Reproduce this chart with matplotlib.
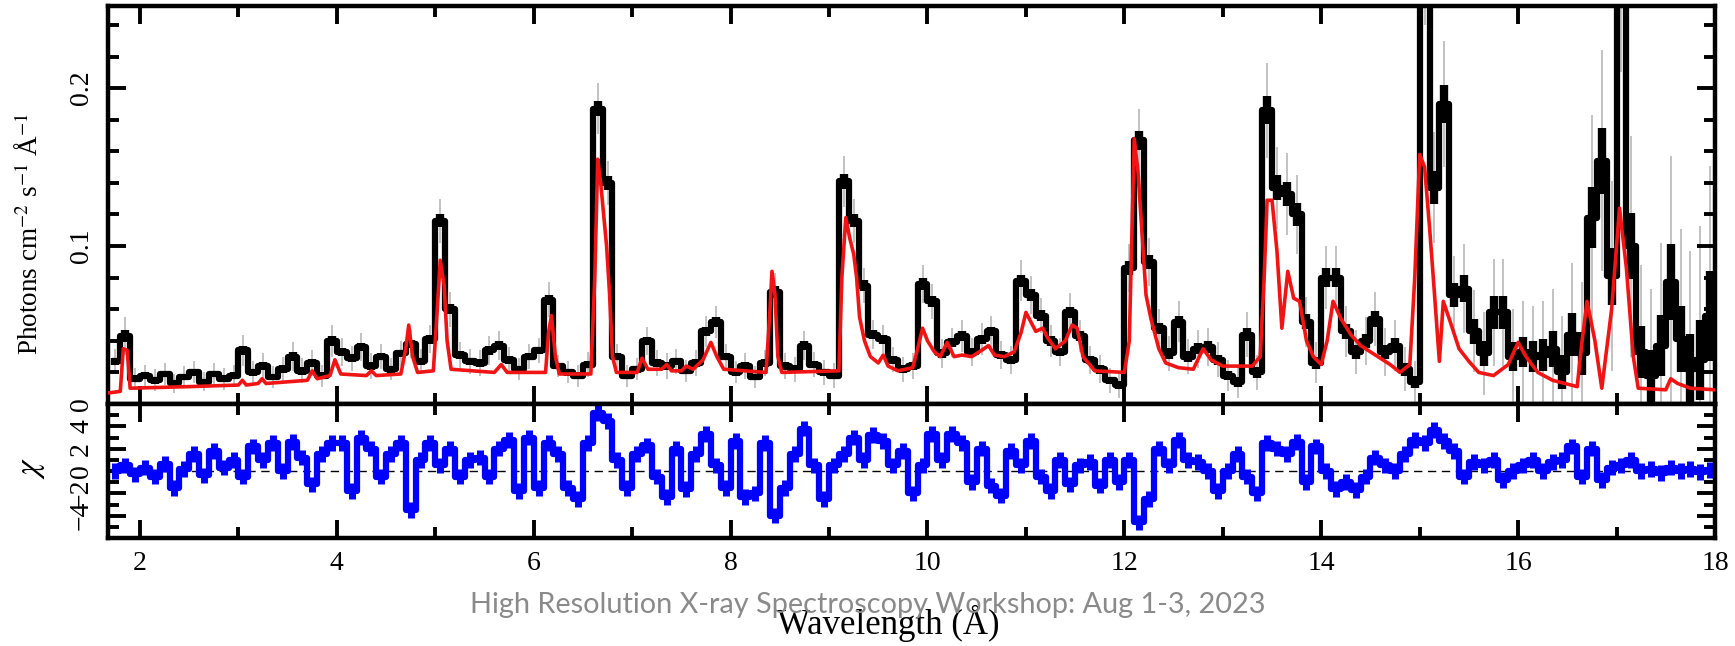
"""Chandra-style X-ray spectrum with model fit and chi residuals."""
import numpy as np
import matplotlib
matplotlib.use("Agg")
import matplotlib.pyplot as plt
from matplotlib.ticker import MultipleLocator

plt.rcParams.update({
    "font.family": "Liberation Serif",
    "mathtext.fontset": "stix",
    "font.size": 20,
})

# bin centres (Angstrom)
wl = [
    1.75, 1.85, 1.95, 2.05, 2.15, 2.25, 2.35, 2.45, 2.55, 2.65,
    2.75, 2.85, 2.95, 3.05, 3.15, 3.25, 3.35, 3.45, 3.55, 3.65,
    3.75, 3.85, 3.95, 4.05, 4.15, 4.25, 4.35, 4.45, 4.55, 4.65,
    4.75, 4.85, 4.95, 5.05, 5.15, 5.25, 5.35, 5.45, 5.55, 5.65,
    5.75, 5.85, 5.95, 6.05, 6.15, 6.25, 6.35, 6.45, 6.55, 6.65,
    6.75, 6.85, 6.95, 7.05, 7.15, 7.25, 7.35, 7.45, 7.55, 7.65,
    7.75, 7.85, 7.95, 8.05, 8.15, 8.25, 8.35, 8.45, 8.55, 8.65,
    8.75, 8.85, 8.95, 9.05, 9.15, 9.25, 9.35, 9.45, 9.55, 9.65,
    9.75, 9.85, 9.95, 10.05, 10.15, 10.25, 10.35, 10.45, 10.55, 10.65,
    10.75, 10.85, 10.95, 11.05, 11.15, 11.25, 11.35, 11.45, 11.55, 11.65,
    11.75, 11.85, 11.95, 12.05, 12.15, 12.25, 12.35, 12.45, 12.55, 12.65,
    12.75, 12.85, 12.95, 13.05, 13.15, 13.25, 13.35, 13.45, 13.55, 13.65,
    13.75, 13.85, 13.95, 14.05, 14.15, 14.25, 14.35, 14.45, 14.55, 14.65,
    14.75, 14.85, 14.95, 15.05, 15.15, 15.25, 15.35, 15.45, 15.55, 15.65,
    15.75, 15.85, 15.95, 16.05, 16.15, 16.25, 16.35, 16.45, 16.55, 16.65,
    16.75, 16.85, 16.95, 17.05, 17.15, 17.25, 17.35, 17.45, 17.55, 17.65,
    17.75, 17.85, 17.95,
]

# observed flux (photons cm^-2 s^-1 A^-1)
flux = [
    0.027, 0.043, 0.016, 0.018, 0.015, 0.019, 0.013, 0.017, 0.020, 0.014,
    0.019, 0.016, 0.018, 0.034, 0.020, 0.024, 0.017, 0.022, 0.030, 0.021,
    0.026, 0.018, 0.040, 0.033, 0.029, 0.036, 0.024, 0.030, 0.022, 0.032,
    0.038, 0.027, 0.041, 0.116, 0.060, 0.031, 0.027, 0.026, 0.034, 0.037,
    0.028, 0.022, 0.030, 0.034, 0.066, 0.024, 0.020, 0.018, 0.025, 0.187,
    0.140, 0.030, 0.018, 0.022, 0.040, 0.026, 0.024, 0.027, 0.021, 0.026,
    0.046, 0.052, 0.030, 0.020, 0.024, 0.017, 0.026, 0.071, 0.024, 0.022,
    0.037, 0.025, 0.020, 0.018, 0.141, 0.116, 0.075, 0.044, 0.041, 0.028,
    0.022, 0.024, 0.076, 0.065, 0.032, 0.039, 0.043, 0.033, 0.041, 0.046,
    0.031, 0.028, 0.078, 0.069, 0.056, 0.040, 0.033, 0.058, 0.043, 0.028,
    0.022, 0.015, 0.012, 0.086, 0.167, 0.090, 0.048, 0.032, 0.052, 0.030,
    0.035, 0.036, 0.028, 0.018, 0.014, 0.044, 0.020, 0.186, 0.137, 0.133,
    0.120, 0.052, 0.026, 0.080, 0.080, 0.046, 0.033, 0.040, 0.054, 0.033,
    0.037, 0.022, 0.014, 0.300, 0.137, 0.190, 0.069, 0.073, 0.046, 0.032,
    0.058, 0.058, 0.030, 0.033, 0.030, 0.031, 0.035, 0.020, 0.044, 0.032,
    0.118, 0.154, 0.081, 0.300, 0.100, 0.033, 0.018, 0.037, 0.077, 0.041,
    0.022, 0.028, 0.056,
]

# 1-sigma flux errors
flux_err = [
    0.008, 0.012, 0.007, 0.007, 0.007, 0.007, 0.006, 0.007, 0.007, 0.006,
    0.007, 0.007, 0.007, 0.010, 0.007, 0.008, 0.007, 0.008, 0.009, 0.008,
    0.008, 0.007, 0.010, 0.009, 0.008, 0.009, 0.008, 0.008, 0.007, 0.008,
    0.009, 0.008, 0.009, 0.014, 0.011, 0.008, 0.008, 0.008, 0.009, 0.009,
    0.008, 0.007, 0.008, 0.008, 0.011, 0.007, 0.007, 0.007, 0.008, 0.016,
    0.014, 0.008, 0.007, 0.007, 0.009, 0.008, 0.008, 0.008, 0.007, 0.008,
    0.010, 0.010, 0.008, 0.007, 0.008, 0.007, 0.008, 0.012, 0.008, 0.008,
    0.009, 0.008, 0.008, 0.008, 0.016, 0.014, 0.011, 0.009, 0.009, 0.008,
    0.008, 0.008, 0.012, 0.011, 0.009, 0.009, 0.010, 0.009, 0.010, 0.010,
    0.009, 0.009, 0.013, 0.012, 0.011, 0.010, 0.009, 0.012, 0.010, 0.009,
    0.009, 0.008, 0.008, 0.015, 0.020, 0.015, 0.012, 0.011, 0.013, 0.011,
    0.012, 0.012, 0.011, 0.010, 0.010, 0.014, 0.011, 0.030, 0.026, 0.026,
    0.025, 0.016, 0.013, 0.020, 0.020, 0.016, 0.014, 0.015, 0.017, 0.015,
    0.016, 0.014, 0.013, 0.060, 0.035, 0.040, 0.025, 0.028, 0.026, 0.026,
    0.034, 0.034, 0.030, 0.032, 0.032, 0.034, 0.038, 0.036, 0.045, 0.045,
    0.065, 0.070, 0.060, 0.090, 0.070, 0.055, 0.055, 0.065, 0.080, 0.070,
    0.075, 0.085, 0.095,
]

# residuals (data - model) / sigma
chi = [
    0.0, 0.5, -0.3, 0.3, -0.5, 0.6, -1.5, 0.2, 1.5, -0.4,
    1.8, 0.3, 1.0, -0.5, 2.2, 1.0, 2.5, 0.0, 2.6, 1.2,
    -1.2, 1.5, 2.5, 2.5, -1.8, 3.0, 2.0, -0.5, 1.5, 2.5,
    -3.5, 1.0, 2.5, 0.5, 2.0, -0.5, 1.0, 1.2, -0.5, 2.0,
    2.8, -1.8, 3.0, -1.5, 2.5, 1.5, -1.5, -2.5, 2.5, 5.2,
    4.5, 1.0, -1.5, 1.5, 2.3, -0.5, -2.3, 2.0, -1.6, 1.5,
    3.3, 0.5, -1.5, 2.7, -2.3, -2.0, 2.5, -4.0, -1.5, 1.5,
    3.8, 0.5, -2.5, 0.5, 1.5, 3.0, 1.0, 3.2, 2.7, 0.5,
    1.8, -2.0, 0.5, 3.3, 1.0, 3.3, 2.5, -1.0, 2.0, -1.3,
    -2.2, 1.8, 0.5, 2.7, -0.5, -1.8, 1.0, -1.2, 0.5, 0.8,
    -1.3, 1.0, -1.0, 1.0, -4.6, -2.5, 2.0, 0.5, 2.8, 1.0,
    0.8, 0.0, -1.8, 0.0, 1.5, -0.5, -2.0, 2.5, 2.0, 1.5,
    2.6, -1.0, 2.2, 0.0, -1.6, -1.0, -1.7, -0.5, 1.2, 0.5,
    0.0, 1.5, 2.8, 2.5, 3.7, 2.7, 1.8, -0.5, 0.8, 0.5,
    1.0, -0.8, 0.0, 0.5, 1.0, 0.0, 0.8, 1.0, 2.2, -0.5,
    2.0, -0.8, 0.3, 0.5, 1.0, 0.0, 0.2, -0.2, 0.3, 0.0,
    0.2, -0.1, 0.1,
]

# best-fit model
model_wl = [
    1.68, 1.80, 1.83, 1.87, 1.90, 2.50, 3.00, 3.04, 3.08, 3.20,
    3.24, 3.28, 3.70, 3.75, 3.80, 3.93, 3.98, 4.04, 4.30, 4.35,
    4.40, 4.65, 4.70, 4.73, 4.77, 4.82, 4.98, 5.02, 5.05, 5.09,
    5.12, 5.16, 5.60, 5.67, 5.73, 6.12, 6.15, 6.18, 6.22, 6.26,
    6.58, 6.62, 6.65, 6.68, 6.71, 6.74, 6.77, 6.80, 6.84, 7.05,
    7.10, 7.16, 7.30, 7.35, 7.40, 7.50, 7.55, 7.62, 7.72, 7.80,
    7.86, 7.93, 8.36, 8.40, 8.42, 8.45, 8.48, 8.52, 9.10, 9.13,
    9.17, 9.21, 9.25, 9.28, 9.31, 9.36, 9.42, 9.50, 9.55, 9.60,
    9.70, 9.85, 9.90, 9.95, 10.00, 10.07, 10.13, 10.20, 10.27, 10.35,
    10.45, 10.55, 10.62, 10.68, 10.78, 10.88, 10.95, 11.00, 11.05, 11.10,
    11.17, 11.22, 11.30, 11.40, 11.47, 11.52, 11.58, 11.70, 12.00, 12.05,
    12.10, 12.14, 12.18, 12.22, 12.27, 12.35, 12.42, 12.55, 12.70, 12.80,
    12.88, 13.00, 13.30, 13.38, 13.42, 13.45, 13.50, 13.55, 13.60, 13.66,
    13.72, 13.78, 13.85, 13.92, 14.00, 14.06, 14.12, 14.20, 14.30, 14.40,
    14.50, 14.60, 14.70, 14.80, 14.90, 14.95, 15.00, 15.05, 15.10, 15.15,
    15.20, 15.24, 15.30, 15.40, 15.50, 15.60, 15.75, 15.90, 16.00, 16.08,
    16.20, 16.35, 16.60, 16.65, 16.70, 16.78, 16.85, 16.95, 17.03, 17.10,
    17.17, 17.22, 17.50, 17.55, 17.62, 17.75, 18.00,
]
model_flux = [
    0.007, 0.008, 0.035, 0.034, 0.010, 0.011, 0.012, 0.015, 0.012, 0.013,
    0.016, 0.013, 0.015, 0.021, 0.016, 0.018, 0.028, 0.019, 0.018, 0.021,
    0.018, 0.019, 0.035, 0.050, 0.030, 0.020, 0.021, 0.060, 0.091, 0.075,
    0.040, 0.022, 0.020, 0.025, 0.020, 0.020, 0.045, 0.056, 0.030, 0.019,
    0.019, 0.080, 0.155, 0.140, 0.120, 0.100, 0.070, 0.030, 0.020, 0.020,
    0.029, 0.022, 0.022, 0.025, 0.021, 0.021, 0.024, 0.022, 0.028, 0.039,
    0.030, 0.022, 0.020, 0.060, 0.084, 0.070, 0.030, 0.020, 0.021, 0.080,
    0.118, 0.105, 0.095, 0.080, 0.055, 0.040, 0.030, 0.026, 0.031, 0.024,
    0.021, 0.023, 0.035, 0.048, 0.040, 0.033, 0.030, 0.039, 0.030, 0.031,
    0.030, 0.034, 0.037, 0.031, 0.030, 0.033, 0.045, 0.058, 0.052, 0.046,
    0.048, 0.042, 0.035, 0.040, 0.050, 0.048, 0.030, 0.021, 0.020, 0.040,
    0.168, 0.146, 0.107, 0.069, 0.054, 0.035, 0.026, 0.023, 0.022, 0.035,
    0.028, 0.024, 0.024, 0.030, 0.080, 0.129, 0.129, 0.097, 0.048, 0.084,
    0.067, 0.065, 0.040, 0.030, 0.025, 0.040, 0.065, 0.054, 0.044, 0.037,
    0.033, 0.029, 0.025, 0.020, 0.025, 0.080, 0.158, 0.150, 0.112, 0.070,
    0.027, 0.065, 0.054, 0.035, 0.027, 0.020, 0.018, 0.025, 0.039, 0.030,
    0.020, 0.015, 0.011, 0.040, 0.065, 0.040, 0.010, 0.060, 0.124, 0.086,
    0.030, 0.010, 0.009, 0.016, 0.013, 0.010, 0.009,
]

x = np.array(wl)
y = np.array(flux)
e = np.array(flux_err)
r = np.array(chi)

W, H = 1735, 646
fig = plt.figure(figsize=(W / 100, H / 100), dpi=100)
ax = fig.add_axes([108 / W, 1 - 404 / H, 1607 / W, 398 / H])
axr = fig.add_axes([108 / W, 1 - 538 / H, 1607 / W, 134 / H], sharex=ax)

# spectrum panel
ax.vlines(x, y - e, y + e, color="#bdbdbd", lw=1.3, zorder=1)
ax.vlines(x, y - 0.3 * e, y + 0.3 * e, color="black", lw=6, zorder=2)
ax.step(x, y, where="mid", color="black", lw=4.5, zorder=2)
ax.plot(model_wl, model_flux, color="#f01414", lw=2.6, zorder=3)

# residual panel
axr.axhline(0, color="black", lw=1.0, ls=(0, (6, 4)), zorder=1)
axr.vlines(x, r - 0.7, r + 0.7, color="#0000ff", lw=5, zorder=2)
axr.step(x, r, where="mid", color="#0000ff", lw=4.5, zorder=2)

ax.set_xlim(1.675, 18.0)
ax.set_ylim(0, 0.252)
axr.set_ylim(-6, 6)

for a in (ax, axr):
    a.xaxis.set_major_locator(MultipleLocator(2))
    a.xaxis.set_minor_locator(MultipleLocator(1))
    a.tick_params(which="both", direction="in", top=True, right=True,
                  width=2.8, labelsize=20)
    a.tick_params(which="major", length=13)
    a.tick_params(which="minor", length=8)
    a.tick_params(axis="y", pad=10)
    a.tick_params(axis="x", pad=9)
    for s in a.spines.values():
        s.set_linewidth(3.2)

ax.tick_params(labelbottom=False)
ax.set_yticks([0, 0.1, 0.2])
ax.set_yticklabels(["0", "0.1", "0.2"])
ax.yaxis.set_minor_locator(MultipleLocator(0.02))
axr.set_yticks([-4, -2, 0, 2, 4])
axr.set_yticklabels(["\u22124", "\u22122", "0", "2", "4"])
axr.yaxis.set_minor_locator(MultipleLocator(1))
for lab in ax.get_yticklabels() + axr.get_yticklabels():
    lab.set_rotation(90)
    lab.set_va("center")

fig.text(30 / W, 1 - 234 / H, r"Photons cm$^{-2}$ s$^{-1}$ Å$^{-1}$",
         rotation=90, ha="center", va="center", fontsize=19.5)
fig.text(32 / W, 1 - 468 / H, r"$\chi$", rotation=90, ha="center",
         va="center", fontsize=24)
fig.text(888 / W, 1 - 623 / H, "Wavelength (Å)", ha="center", va="center",
         fontsize=25)
fig.text(868 / W, 1 - 605 / H,
         "High Resolution X-ray Spectroscopy Workshop: Aug 1-3, 2023",
         ha="center", va="center", fontsize=20.8, color="#8a8a8a",
         family="Lato", zorder=10)

fig.savefig("out.png", dpi=100)
